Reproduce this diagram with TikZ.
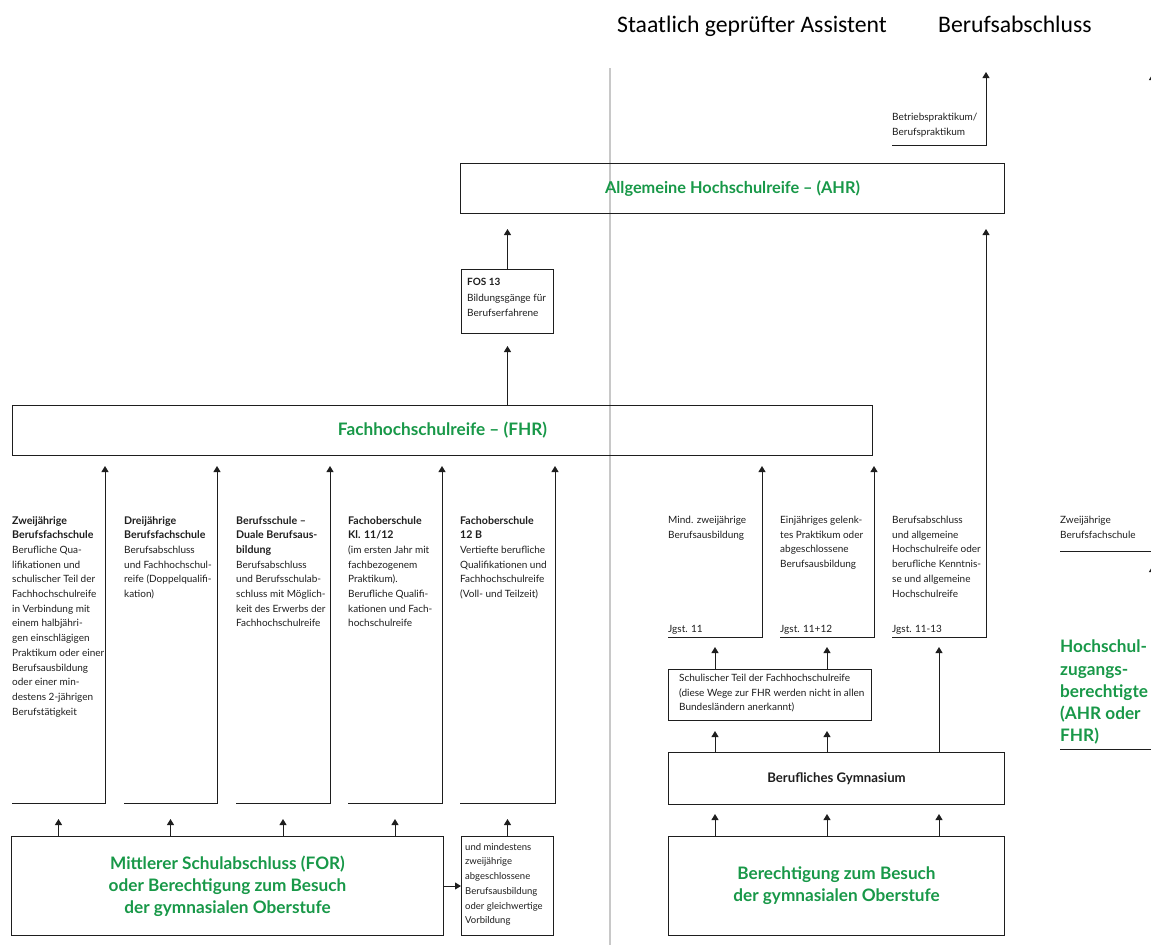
\documentclass[tikz,border=0pt]{standalone}
\usepackage{fontspec}
\setmainfont{Lato}
\newfontfamily\hdrfont{Carlito}
\usetikzlibrary{arrows.meta}
\definecolor{fgreen}{RGB}{24,152,72}
\definecolor{vgray}{RGB}{200,200,200}
\definecolor{ink}{RGB}{30,30,30}
\newcommand{\hd}[1]{{\fontsize{10.6}{14.7}\selectfont\bfseries #1}}
\begin{document}
\begin{tikzpicture}[x=1pt,y=-1pt,
  ln/.style={draw=ink, line width=1pt},
  arr/.style={ln, -{Triangle[width=7pt,length=6pt]}},
  box/.style={ln, inner sep=0pt, anchor=north west},
  txt/.style={font=\fontsize{10}{14.7}\selectfont, text=ink, align=left, inner sep=0pt, anchor=north west},
  gtitle/.style={font=\fontsize{17.2}{22.2}\selectfont\bfseries, text=fgreen, align=center},
  hdr/.style={font=\hdrfont\fontsize{23.7}{28}\selectfont, text=black, anchor=base west, inner sep=0pt},
]
\useasboundingbox (0,0) rectangle (1151,945);
% grey divider
\coordinate (gt) at (610,68);
\coordinate (gb) at (610,945);
\draw[vgray, line width=2pt] (gt) -- (gb);

% headers
\node[hdr] (h1) at (617,32) {Staatlich geprüfter Assistent};
\node[hdr] (h2) at (938,32) {Berufsabschluss};

% main boxes
\node[box, gtitle, font=\fontsize{16.3}{22}\selectfont\bfseries, minimum width=544pt, minimum height=50pt] (AHR) at (460,163) {Allgemeine Hochschulreife – (AHR)};
\node[box, minimum width=92pt, minimum height=64pt] (FOS) at (461,269) {};
\node[txt, font=\fontsize{10}{15.5}\selectfont] (FOSt) at (467,278) {\textbf{FOS 13}\\Bildungsgänge für\\Berufserfahrene};
\node[box, gtitle, minimum width=860pt, minimum height=50pt] (FHR) at (12,405) {Fachhochschulreife – (FHR)};
\node[box, gtitle, minimum width=432pt, minimum height=99pt] (MIT) at (11,836) {Mittlerer Schulabschluss (FOR)\\oder Berechtigung zum Besuch\\der gymnasialen Oberstufe};
\node[box, minimum width=92pt, minimum height=99pt] (UND) at (461,836) {};
\node[txt, font=\fontsize{9.5}{14.7}\selectfont] (UNDt) at (465,843) {und mindestens\\zweijährige\\abgeschlossene\\Berufsausbildung\\oder gleichwertige\\Vorbildung};
\node[box, minimum width=203pt, minimum height=51pt] (SCH) at (668,669) {};
\node[txt] (SCHt) at (679,674) {Schulischer Teil der Fachhochschulreife\\(diese Wege zur FHR werden nicht in allen\\Bundesländern anerkannt)};
\node[box, minimum width=336pt, minimum height=52pt, font=\fontsize{13.2}{15}\selectfont\bfseries, text=ink] (GYM) at (668,752) {Berufliches Gymnasium};
\node[box, gtitle, minimum width=336pt, minimum height=99pt] (BER) at (668,836) {Berechtigung zum Besuch\\der gymnasialen Oberstufe};

% column texts (left)
\node[txt] (T1) at (12,516) {\hd{Zweijährige}\\\hd{Berufsfachschule}\\Berufliche Qua-\\lifikationen und\\schulischer Teil der\\Fachhochschulreife\\in Verbindung mit\\einem halbjähri-\\gen einschlägigen\\Praktikum oder einer\\Berufsausbildung\\oder einer min-\\destens 2-jährigen\\Berufstätigkeit};
\node[txt] (T2) at (124,516) {\hd{Dreijährige}\\\hd{Berufsfachschule}\\Berufsabschluss\\und Fachhochschul-\\reife (Doppelqualifi-\\kation)};
\node[txt] (T3) at (236,516) {\hd{Berufsschule –}\\\hd{Duale Berufsaus-}\\\hd{bildung}\\Berufsabschluss\\und Berufsschulab-\\schluss mit Möglich-\\keit des Erwerbs der\\Fachhochschulreife};
\node[txt] (T4) at (348,516) {\hd{Fachoberschule}\\\hd{Kl. 11/12}\\(im ersten Jahr mit\\fachbezogenem\\Praktikum).\\Berufliche Qualifi-\\kationen und Fach-\\hochschulreife};
\node[txt] (T5) at (460,516) {\hd{Fachoberschule}\\\hd{12 B}\\Vertiefte berufliche\\Qualifikationen und\\Fachhochschulreife\\(Voll- und Teilzeit)};

% column texts (right)
\node[txt] (TA) at (668,516) {Mind. zweijährige\\Berufsausbildung};
\node[txt] (TB) at (780,516) {Einjähriges gelenk-\\tes Praktikum oder\\abgeschlossene\\Berufsausbildung};
\node[txt] (TC) at (892,516) {Berufsabschluss\\und allgemeine\\Hochschulreife oder\\berufliche Kenntnis-\\se und allgemeine\\Hochschulreife};
\node[txt, anchor=base west] (JA) at (668,632) {Jgst. 11};
\node[txt, anchor=base west] (JB) at (780,632) {Jgst. 11+12};
\node[txt, anchor=base west] (JC) at (892,632) {Jgst. 11-13};
\node[txt] (TD) at (1060,516) {Zweijährige\\Berufsfachschule};
\node[txt] (TP) at (892,113) {Betriebspraktikum/\\Berufspraktikum};
\node[gtitle, anchor=north west, align=left, inner sep=0pt] (HZ) at (1060,640) {Hochschul-\\zugangs-\\berechtigte\\(AHR oder\\FHR)};

% left column frames
\foreach \a/\b/\n in {12/105/1,124/217/2,236/330/3,348/442/4,460/555/5}{
  \coordinate (La\n) at (\a,803);
  \coordinate (Lb\n) at (\b,803);
  \coordinate (Lm\n) at ({(\a+\b)/2},803);
}
\foreach \n in {1,...,5}{
  \draw[arr, shorten >=10pt] (La\n) -- (Lb\n) -- (Lb\n |- FHR.south);
}
\foreach \n in {1,...,4}{
  \draw[arr, shorten >=16pt] (MIT.north -| Lm\n) -- (Lm\n);
}
\draw[arr, shorten >=16pt] (UND.north -| Lm5) -- (Lm5);
\draw[arr] (MIT.east) -- (UND.west);

% FOS arrows
\draw[arr, shorten >=12pt] (FHR.north -| FOS.south) -- (FOS.south);
\draw[arr, shorten >=15pt] (FOS.north) -- (AHR.south -| FOS.north);

% right column frames
\foreach \a/\b/\n in {668/762/1,780/874/2,892/986/3}{
  \coordinate (Ra\n) at (\a,637);
  \coordinate (Rb\n) at (\b,637);
  \coordinate (Rm\n) at ({(\a+\b)/2},637);
}
\draw[arr, shorten >=10pt] (Ra1) -- (Rb1) -- (Rb1 |- FHR.south);
\draw[arr, shorten >=10pt] (Ra2) -- (Rb2) -- (Rb2 |- FHR.south);
\draw[arr, shorten >=15pt] (Ra3) -- (Rb3) -- (Rb3 |- AHR.south);
\foreach \n in {1,2}{
  \draw[arr, shorten >=10pt] (SCH.north -| Rm\n) -- (Rm\n);
  \draw[arr, shorten >=10pt] (GYM.north -| Rm\n) -- (SCH.south -| Rm\n);
}
\draw[arr, shorten >=10pt] (GYM.north -| Rm3) -- (Rm3);
\foreach \n in {1,2,3}{
  \draw[arr, shorten >=9pt] (BER.north -| Rm\n) -- (GYM.south -| Rm\n);
}

% Betriebspraktikum
\coordinate (Pa) at (892,145);
\coordinate (Pb) at (986,145);
\coordinate (Pt) at (986,72);
\draw[arr] (Pa) -- (Pb) -- (Pt);

% right edge (cut off)
\coordinate (Da) at (1060,551);
\coordinate (Db) at (1160,551);
\draw[ln] (Da) -- (Db);
\coordinate (Ha) at (1060,749);
\coordinate (Hb) at (1160,749);
\draw[ln] (Ha) -- (Hb);
\coordinate (E1a) at (1152.5,110);
\coordinate (E1b) at (1152.5,74);
\draw[arr] (E1a) -- (E1b);
\coordinate (E2a) at (1152.5,620);
\coordinate (E2b) at (1152.5,566);
\draw[arr] (E2a) -- (E2b);
\end{tikzpicture}
\end{document}
